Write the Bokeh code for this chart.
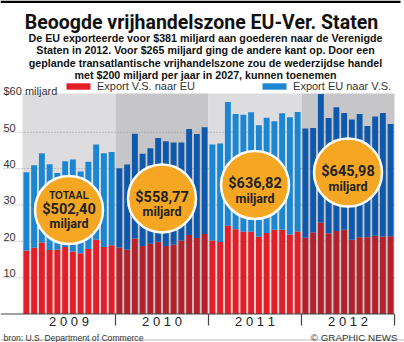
from bokeh.plotting import figure
from bokeh.models import ColumnDataSource, Range1d, Legend, LegendItem
from bokeh.core.properties import value
from bokeh.embed import file_html
from bokeh.resources import INLINE

# ---------------- data ----------------
title = "Beoogde vrijhandelszone EU-Ver. Staten"
subtitle = [
    "De EU exporteerde voor $381 miljard aan goederen naar de Verenigde",
    "Staten in 2012. Voor $265 miljard ging de andere kant op. Door een",
    "geplande transatlantische vrijhandelszone zou de wederzijdse handel",
    "met $200 miljard per jaar in 2027, kunnen toenemen",
]
years = ["2009", "2010", "2011", "2012"]
year_labels = ["2 0 0 9", "2 0 1 0", "2 0 1 1", "2 0 1 2"]
series_names = ["Export V.S. naar EU", "Export EU naar V.S."]

# monthly values, $ billion
export_us_to_eu = [
    17.5, 18.2, 19.7, 17.6, 17.7, 18.4, 17.2, 16.7, 17.9, 20.4, 18.4, 18.9,
    18.3, 17.7, 20.8, 18.7, 19.3, 19.9, 18.7, 19.1, 20.2, 21.7, 20.9, 22.0,
    20.2, 19.8, 24.3, 23.3, 22.6, 22.6, 21.3, 22.3, 23.2, 23.2, 21.9, 22.7,
    21.0, 22.4, 25.1, 22.2, 22.8, 23.2, 20.4, 21.1, 21.1, 21.5, 21.3, 21.4,
]
export_eu_to_us = [
    21.5, 22.7, 24.5, 23.6, 21.1, 23.6, 25.3, 22.5, 24.0, 26.2, 25.8, 25.7,
    21.8, 23.4, 28.8, 25.4, 26.3, 28.5, 28.8, 28.1, 27.0, 29.2, 28.6, 29.4,
    26.4, 27.1, 34.0, 31.7, 32.2, 32.9, 30.6, 31.7, 29.8, 32.0, 32.2, 32.9,
    30.0, 28.8, 35.4, 31.7, 34.1, 32.1, 33.1, 33.9, 30.6, 32.8, 34.0, 30.9,
]
year_totals = [502.40, 558.77, 636.82, 645.98]
y_ticks = [10, 20, 30, 40, 50, 60]
y_tick_labels = ["10", "20", "30", "40", "50", "$60 miljard"]
source_text = "bron: U.S. Department of Commerce"
credit_text = "\u00a9 GRAPHIC NEWS"

# ---------------- layout / style ----------------
W, H = 404, 342
PX_LEFT, PX_MONTH = 22.0, 7.75
PX_BASE, PX_UNIT = 313.5, 3.635
X0 = -PX_LEFT / PX_MONTH
X1 = X0 + W / PX_MONTH
Y1 = PX_BASE / PX_UNIT
Y0 = Y1 - H / PX_UNIT


def X(px):
    return X0 + px / PX_MONTH


def Y(py):
    return (PX_BASE - py) / PX_UNIT


Y_TOP = Y(93)
badge_y = [28.6, 31.8, 35.5, 38.9]

RED = ["#e41e26", "#b3222c"]
BLUE = ["#1b86d2", "#0f59ad"]
BG = ["#dddde0", "#c6c6c9"]
ORANGE = "#f5a623"
TXT = "#222222"
COND = "Roboto"
SANS = "Liberation Sans"

n = len(export_us_to_eu)
per_year = n // len(years)
xs = [i + 0.5 for i in range(n)]
yi = [i // per_year for i in range(n)]
tops = [a + b for a, b in zip(export_us_to_eu, export_eu_to_us)]
src = ColumnDataSource(dict(
    x=xs, us=export_us_to_eu, top=tops,
    red_c=[RED[k % 2] for k in yi], blue_c=[BLUE[k % 2] for k in yi],
))

p = figure(width=W, height=H, x_range=Range1d(X0, X1), y_range=Range1d(Y0, Y1),
           x_axis_location=None, y_axis_location=None, toolbar_location=None,
           output_backend="svg", min_border=0, outline_line_color=None,
           background_fill_color="white", border_fill_color="white")
p.grid.visible = False

# year background bands
starts = [k * per_year for k in range(len(years))]
ends = [s + per_year for s in starts]
centers = [(s + e) / 2 for s, e in zip(starts, ends)]
p.quad(left=starts, right=ends, bottom=0, top=Y_TOP,
       fill_color=[BG[k % 2] for k in range(len(years))], line_color=None)

# gridlines (dotted)
grid_ticks = y_ticks[:-1]
p.segment(x0=[X(3)] * len(grid_ticks), x1=[n] * len(grid_ticks), y0=grid_ticks, y1=grid_ticks,
          line_color="#8c8c8c", line_width=0.9, line_dash="1 2")

# stacked bars
r_red = p.vbar(x="x", width=0.76, bottom=0, top="us", source=src,
               fill_color="red_c", line_color=None)
r_blue = p.vbar(x="x", width=0.76, bottom="us", top="top", source=src,
                fill_color="blue_c", line_color=None)

# x axis baseline and year ticks
p.segment(x0=[X(0)], x1=[n], y0=[0], y1=[0], line_color="#444444", line_width=1.2)
p.segment(x0=ends, x1=ends, y0=[0] * len(ends), y1=[Y(325)] * len(ends),
          line_color="#444444", line_width=1.2)
p.text(x=centers, y=[Y(321)] * len(years), text=year_labels, text_align="center",
       text_baseline="middle", text_font=value(SANS), text_font_size="13px", text_color=TXT)

# y tick labels (above their gridlines, left aligned)
p.text(x=[X(3)] * len(y_ticks), y=y_ticks, text=y_tick_labels, y_offset=-4.5,
       text_align="left", text_baseline="alphabetic", text_font=value(SANS),
       text_font_size="11px", text_color="#333333")

# yearly total badges
p.scatter(x=centers, y=badge_y, size=68, marker="circle", fill_color=ORANGE,
          line_color="white", line_width=2.5)
val_text = ["$" + f"{v:.2f}".replace(".", ",") for v in year_totals]
p.text(x=centers, y=badge_y, text=val_text, y_offset=-1, text_align="center",
       text_baseline="middle", text_font=value(COND), text_font_style="bold",
       text_font_size="14.5px", text_color=TXT)
p.text(x=centers, y=badge_y, text=["miljard"] * len(years), y_offset=13.5, text_align="center",
       text_baseline="middle", text_font=value(COND), text_font_style="bold",
       text_font_size="12.5px", text_color=TXT)
p.text(x=centers[:1], y=badge_y[:1], text=["TOTAAL"], y_offset=-14.5, text_align="center",
       text_baseline="middle", text_font=value(SANS), text_font_style="bold",
       text_font_size="10px", text_color=TXT)

# top bar and bottom rule
p.quad(left=[X(0)], right=[X(400)], top=[Y(0)], bottom=[Y(2.5)], fill_color="black", line_color=None)
p.segment(x0=[X(0)], x1=[X(404)], y0=[Y(339.5)], y1=[Y(339.5)], line_color="#bbbbbb", line_width=1)

# title and subtitle
p.text(x=[X(201)], y=[Y(21.5)], text=[title], text_align="center", text_baseline="alphabetic",
       text_font=value(COND), text_font_style="bold", text_font_size="19.5px", text_color="#111111")
sub_base = [37, 49.5, 62, 74.5]
p.text(x=[X(205)] * len(subtitle), y=[Y(b) for b in sub_base], text=subtitle, text_align="center",
       text_baseline="alphabetic", text_font=value(SANS), text_font_style="bold",
       text_font_size="10.7px", text_color="#111111")

# footer
p.text(x=[X(3)], y=[Y(337)], text=[source_text], text_align="left", text_baseline="alphabetic",
       text_font=value(SANS), text_font_size="8.6px", text_color="#333333")
p.text(x=[X(397)], y=[Y(336.5)], text=[credit_text], text_align="right", text_baseline="alphabetic",
       text_font=value(SANS), text_font_size="9.8px", text_color="#333333")

# legend
legend = Legend(items=[LegendItem(label=series_names[0], renderers=[r_red], index=0),
                       LegendItem(label=series_names[1], renderers=[r_blue], index=0)],
                orientation="horizontal", location=(63, H - 92), spacing=64,
                label_standoff=4, glyph_width=30, glyph_height=8, label_height=8,
                padding=0, margin=0, background_fill_alpha=0, border_line_color=None,
                label_text_font=SANS, label_text_font_size="11px", label_text_color="#333333")
p.add_layout(legend)

open("out.html", "w").write(file_html(p, INLINE))
